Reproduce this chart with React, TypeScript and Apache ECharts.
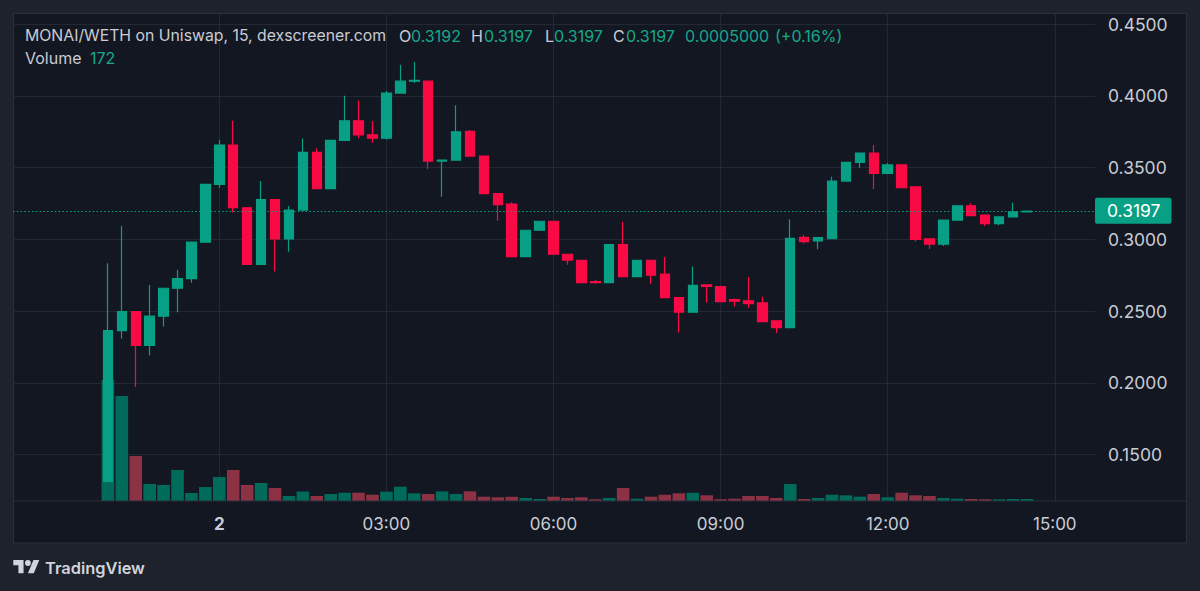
import React, { useEffect, useRef } from "react";
import * as echarts from "echarts";

// ---------- data ----------
const times = [
  "22:00", "22:15", "22:30", "22:45", "23:00", "23:15", "23:30", "23:45",
  "00:00", "00:15", "00:30", "00:45", "01:00", "01:15", "01:30", "01:45",
  "02:00", "02:15", "02:30", "02:45", "03:00", "03:15", "03:30", "03:45",
  "04:00", "04:15", "04:30", "04:45", "05:00", "05:15", "05:30", "05:45",
  "06:00", "06:15", "06:30", "06:45", "07:00", "07:15", "07:30", "07:45",
  "08:00", "08:15", "08:30", "08:45", "09:00", "09:15", "09:30", "09:45",
  "10:00", "10:15", "10:30", "10:45", "11:00", "11:15", "11:30", "11:45",
  "12:00", "12:15", "12:30", "12:45", "13:00", "13:15", "13:30", "13:45",
  "14:00", "14:15", "14:30",
];

// [open, close, low, high]
const ohlc: [number, number, number, number][] = [
  [0.1314, 0.2365, 0.1314, 0.2834],
  [0.2365, 0.2497, 0.2310, 0.3094],
  [0.2497, 0.2261, 0.1971, 0.2497],
  [0.2261, 0.2465, 0.2191, 0.2683],
  [0.2465, 0.2660, 0.2393, 0.2660],
  [0.2660, 0.2727, 0.2493, 0.2788],
  [0.2727, 0.2981, 0.2699, 0.2981],
  [0.2981, 0.3384, 0.2981, 0.3384],
  [0.3384, 0.3658, 0.3361, 0.3693],
  [0.3658, 0.3221, 0.3187, 0.3827],
  [0.3221, 0.2827, 0.2827, 0.3221],
  [0.2827, 0.3277, 0.2827, 0.3407],
  [0.3277, 0.3003, 0.2776, 0.3277],
  [0.3003, 0.3205, 0.2915, 0.3233],
  [0.3205, 0.3607, 0.3205, 0.3704],
  [0.3607, 0.3354, 0.3354, 0.3635],
  [0.3354, 0.3690, 0.3354, 0.3690],
  [0.3690, 0.3827, 0.3690, 0.4001],
  [0.3827, 0.3729, 0.3706, 0.3969],
  [0.3729, 0.3706, 0.3674, 0.3825],
  [0.3706, 0.4020, 0.3695, 0.4034],
  [0.4020, 0.4103, 0.4020, 0.4217],
  [0.4103, 0.4108, 0.4091, 0.4237],
  [0.4103, 0.3546, 0.3491, 0.4103],
  [0.3546, 0.3553, 0.3298, 0.3553],
  [0.3553, 0.3750, 0.3553, 0.3936],
  [0.3753, 0.3581, 0.3581, 0.3762],
  [0.3581, 0.3319, 0.3319, 0.3581],
  [0.3319, 0.3242, 0.3131, 0.3319],
  [0.3247, 0.2880, 0.2880, 0.3259],
  [0.2880, 0.3064, 0.2880, 0.3064],
  [0.3064, 0.3127, 0.3064, 0.3127],
  [0.3127, 0.2897, 0.2897, 0.3127],
  [0.2897, 0.2855, 0.2823, 0.2897],
  [0.2855, 0.2699, 0.2699, 0.2855],
  [0.2706, 0.2699, 0.2692, 0.2720],
  [0.2699, 0.2964, 0.2699, 0.2964],
  [0.2964, 0.2741, 0.2741, 0.3124],
  [0.2741, 0.2855, 0.2741, 0.2855],
  [0.2855, 0.2751, 0.2692, 0.2855],
  [0.2758, 0.2595, 0.2595, 0.2878],
  [0.2595, 0.2493, 0.2351, 0.2595],
  [0.2493, 0.2681, 0.2493, 0.2811],
  [0.2683, 0.2672, 0.2560, 0.2686],
  [0.2672, 0.2567, 0.2567, 0.2672],
  [0.2581, 0.2570, 0.2532, 0.2588],
  [0.2572, 0.2553, 0.2523, 0.2739],
  [0.2558, 0.2428, 0.2428, 0.2602],
  [0.2433, 0.2386, 0.2347, 0.2433],
  [0.2386, 0.3008, 0.2386, 0.3141],
  [0.3015, 0.2985, 0.2971, 0.3033],
  [0.2990, 0.3013, 0.2932, 0.3017],
  [0.3005, 0.3407, 0.3005, 0.3437],
  [0.3407, 0.3537, 0.3407, 0.3537],
  [0.3537, 0.3602, 0.3500, 0.3602],
  [0.3602, 0.3461, 0.3351, 0.3658],
  [0.3461, 0.3519, 0.3461, 0.3532],
  [0.3519, 0.3361, 0.3361, 0.3519],
  [0.3367, 0.3001, 0.2985, 0.3367],
  [0.3005, 0.2967, 0.2934, 0.3005],
  [0.2967, 0.3134, 0.2955, 0.3134],
  [0.3134, 0.3235, 0.3134, 0.3235],
  [0.3235, 0.3166, 0.3166, 0.3252],
  [0.3170, 0.3110, 0.3094, 0.3170],
  [0.3110, 0.3157, 0.3099, 0.3157],
  [0.3157, 0.3192, 0.3157, 0.3256],
  [0.3192, 0.3197, 0.3192, 0.3197],
];

const volumes = [
  10400, 9030, 3870, 1460, 1380, 2670, 690, 1200,
  2060, 2670, 1380, 1550, 1120, 430, 820, 430,
  600, 710, 710, 540, 800, 1230, 660, 600,
  830, 600, 830, 370, 320, 360, 260, 172,
  370, 260, 320, 150, 260, 1120, 200, 370,
  540, 660, 710, 490, 150, 200, 430, 430,
  260, 1460, 172, 260, 540, 490, 370, 600,
  320, 710, 490, 430, 260, 200, 172, 150,
  150, 172, 172,
];

const timeTickHours = [0, 3, 6, 9, 12, 15];
const timeTickLabels = ["2", "03:00", "06:00", "09:00", "12:00", "15:00"];
const lastPrice = 0.3197;

// ---------- style ----------
const UP = "#08a085";
const DOWN = "#fa0a45";
const UP_VOL = "#006a5b";
const DOWN_VOL = "#8c3244";
const TEXT = "#c9ccd4";
const GREEN_TEXT = "#16a98b";
const GRID = "#242834";
const FRAME = "#2b2f3b";
const FONT = "Inter, 'Noto Sans', sans-serif";

const TV_PATH =
  "M14 22H7V11H0V4h14v18zM28 22h-8l7.5-18h8L28 22zM16 8a4 4 0 1 0 8 0a4 4 0 1 0 -8 0z";
let registered = false;

function hourOf(t: string): number {
  const [h, m] = t.split(":").map(Number);
  const v = h + m / 60;
  return h >= 20 ? v - 24 : v;
}

// pixel layout
const X0 = 219.3; // pixel of hour 0
const PXH = 55.7; // pixels per hour
const PLOT_L = 13;
const PLOT_R = 1095;

export default function App() {
  const ref = useRef<HTMLDivElement>(null);
  useEffect(() => {
    document.body.style.margin = "0";
    document.body.style.background = "#1e222d";
    if (!registered) {
      echarts.graphic.registerShape("tvlogo", echarts.graphic.extendPath(TV_PATH, {}) as any);
      registered = true;
    }
    const chart = echarts.init(ref.current!, undefined, { renderer: "svg" });
    const hours = times.map(hourOf);
    const candleData = ohlc.map((c, i) => [hours[i], c[0], c[1], c[2], c[3]]);
    const volData = volumes.map((v, i) => ({
      value: [hours[i], v],
      itemStyle: { color: ohlc[i][1] >= ohlc[i][0] ? UP_VOL : DOWN_VOL },
    }));
    const xMin0 = (PLOT_L - X0) / PXH;
    const xMax0 = (PLOT_R - X0) / PXH;
    const volLeft = X0 - 3 * PXH;

    const txt = (text: string, x: number, y: number, fill: string, extra: any = {}) => ({
      type: "text",
      x,
      y,
      silent: true,
      z: 20,
      style: {
        text,
        fill,
        fontSize: 16,
        fontFamily: FONT,
        verticalAlign: "middle",
        textVerticalAlign: "middle",
        ...extra,
      },
    });

    chart.setOption({
      animation: false,
      backgroundColor: "#1e222d",
      grid: [
        { left: PLOT_L, right: 1200 - PLOT_R, top: 24.2, height: 430.5 },
        { left: volLeft, right: 1200 - PLOT_R, top: 12, bottom: 90 },
      ],
      xAxis: [
        { type: "value", gridIndex: 0, min: xMin0, max: xMax0, show: false },
        {
          type: "value",
          gridIndex: 1,
          min: -3,
          max: xMax0,
          interval: 3,
          axisLine: { show: false },
          axisTick: { show: false },
          splitLine: {
            show: true,
            showMinLine: false,
            showMaxLine: false,
            lineStyle: { color: GRID, width: 1 },
          },
          axisLabel: {
            margin: 14,
            color: TEXT,
            fontSize: 17,
            fontFamily: FONT,
            showMinLabel: false,
            showMaxLabel: false,
            formatter: (v: number) => {
              const k = timeTickHours.indexOf(Math.round(v * 100) / 100);
              if (k < 0) return "";
              return k === 0 ? "{b|" + timeTickLabels[k] + "}" : timeTickLabels[k];
            },
            rich: { b: { fontWeight: "bold", fontSize: 17, color: TEXT, fontFamily: FONT } },
          },
        },
      ],
      yAxis: [
        {
          type: "value",
          gridIndex: 0,
          position: "right",
          min: 0.15,
          max: 0.45,
          interval: 0.05,
          axisLine: { show: false },
          axisTick: { show: false },
          splitLine: { show: true, lineStyle: { color: GRID, width: 1 } },
          axisLabel: {
            margin: 13,
            color: TEXT,
            fontSize: 17.5,
            fontFamily: FONT,
            formatter: (v: number) => v.toFixed(4),
          },
        },
        {
          type: "value",
          gridIndex: 1,
          min: 0,
          max: 489 * 86,
          show: false,
          splitLine: { show: false },
        },
      ],
      series: [
        {
          type: "bar",
          xAxisIndex: 1,
          yAxisIndex: 1,
          data: volData,
          barWidth: 12.6,
          z: 1,
          silent: true,
        },
        {
          type: "candlestick",
          xAxisIndex: 0,
          yAxisIndex: 0,
          data: candleData,
          encode: { x: 0, y: [1, 2, 3, 4] },
          barWidth: 10,
          z: 3,
          silent: true,
          itemStyle: {
            color: UP,
            color0: DOWN,
            borderColor: UP,
            borderColor0: DOWN,
            borderWidth: 1.2,
          },
          markLine: {
            silent: true,
            symbol: "none",
            animation: false,
            data: [{ yAxis: lastPrice }],
            lineStyle: { color: UP, width: 1.2, type: [1.5, 2.3] },
            label: {
              show: true,
              position: "end",
              distance: 0,
              formatter: lastPrice.toFixed(4),
              color: "#ffffff",
              fontSize: 17.5,
              fontFamily: FONT,
              backgroundColor: UP,
              padding: [4, 11, 4, 12],
              borderRadius: 2,
            },
          },
        },
      ],
      graphic: [
        {
          type: "rect",
          z: -100,
          silent: true,
          shape: { x: 13.5, y: 13.5, width: 1173, height: 529.5 },
          style: { fill: "#131722", stroke: FRAME, lineWidth: 1 },
        },
        {
          type: "line",
          z: 10,
          silent: true,
          shape: { x1: 13.5, y1: 501, x2: 1186.5, y2: 501 },
          style: { stroke: FRAME, lineWidth: 1 },
        },
        txt("MONAI/WETH on Uniswap, 15, dexscreener.com", 25, 35.5, TEXT, { fontSize: 15.8 }),
        txt("O", 399, 35.5, TEXT),
        txt("0.3192", 411, 35.5, GREEN_TEXT),
        txt("H", 471, 35.5, TEXT),
        txt("0.3197", 484, 35.5, GREEN_TEXT),
        txt("L", 545, 35.5, TEXT),
        txt("0.3197", 554, 35.5, GREEN_TEXT),
        txt("C", 613, 35.5, TEXT),
        txt("0.3197", 626, 35.5, GREEN_TEXT),
        txt("0.0005000", 685, 35.5, GREEN_TEXT),
        txt("(+0.16%)", 775, 35.5, GREEN_TEXT),
        txt("Volume", 25, 58, TEXT),
        txt("172", 90, 58, GREEN_TEXT),
        {
          type: "tvlogo",
          x: 13.3,
          y: 557.1,
          scaleX: 0.732,
          scaleY: 0.732,
          silent: true,
          z: 20,
          style: { fill: "#d1d4dc" },
        },
        txt("TradingView", 45, 568, "#d1d4dc", { fontSize: 16.4, fontWeight: 600 }),
      ],
    });
    return () => chart.dispose();
  }, []);
  return <div ref={ref} style={{ width: 1200, height: 591 }} />;
}
